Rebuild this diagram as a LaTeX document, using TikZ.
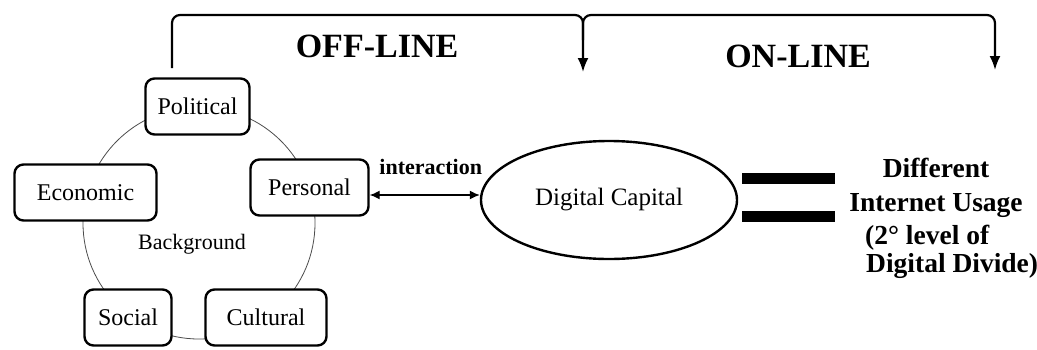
\documentclass[tikz,border=0pt]{standalone}
\usepackage{fontspec}
\setmainfont{Liberation Serif}
\usetikzlibrary{shapes.geometric,arrows.meta}
\begin{document}
\begin{tikzpicture}[x=1pt,y=-1pt,
  factor/.style={draw,line width=2.4pt,rounded corners=9pt,fill=white,
    minimum height=56pt,inner sep=0pt,font=\fontsize{24}{28}\selectfont},
  ring/.style={line width=0.8pt,draw=black!70},
  bracket/.style={line width=2.2pt,rounded corners=8pt},
  tip/.style={-{Latex[length=14pt,width=11pt]}},
  heading/.style={font=\bfseries\fontsize{34}{40}\selectfont},
  result/.style={font=\bfseries\fontsize{27.5}{33}\selectfont},
  bar/.style={fill=black,minimum width=93pt,minimum height=11pt,inner sep=0pt},
]
\useasboundingbox (0,0) rectangle (1037,349);

% background ring linking the factors
\draw[ring] (199,223) circle[radius=116pt];

% factor boxes
\node[factor,minimum width=104pt] (pol) at (197.5,106.5) {Political};
\node[factor,minimum width=142pt] (eco) at (85.5,192.5) {Economic};
\node[factor,minimum width=118pt] (per) at (309.5,187.5) {Personal};
\node[factor,minimum width=87pt] (soc) at (128,317.5) {Social};
\node[factor,minimum width=121pt] (cul) at (266,317.5) {Cultural};
\node[font=\fontsize{22}{26}\selectfont] (bg) at (192,244) {Background};

% digital capital
\node[draw,ellipse,line width=2.4pt,minimum width=256pt,minimum height=118pt,
  inner sep=0pt,font=\fontsize{25}{30}\selectfont] (dc) at (609,200) {Digital Capital};

% interaction arrow
\draw[line width=1.4pt,{Latex[length=10pt,width=9pt]}-{Latex[length=10pt,width=9pt]}]
  (per.east |- 0,195) -- node[above=20pt,xshift=6pt,inner sep=0pt,anchor=south,
  font=\bfseries\fontsize{22}{26}\selectfont] (lab) {interaction} (dc.west |- 0,195);

% equals sign
\node[bar] (eq1) at (788.5,178.5) {};
\node[bar] (eq2) at (788.5,216.5) {};

% outcome
\node[result,anchor=base] (r1) at (936,177) {Different};
\node[result,anchor=base] (r2) at (936,211) {Internet Usage};
\node[result,anchor=base west,inner sep=0pt] (r3) at (865,244) {(2° level of};
\node[result,anchor=base west,inner sep=0pt] (r4) at (866,272) {Digital Divide)};

% headings
\node[heading,anchor=base] (off) at (377,57) {OFF-LINE};
\node[heading,anchor=base] (on) at (798,67) {ON-LINE};

% top bracket
\coordinate (lstart) at (172,68);
\coordinate (mid) at (583,72);
\coordinate (rend) at (995,70);
\draw[bracket,tip] (lstart) |- (mid |- 0,15) -- (mid);
\draw[bracket,tip] (mid |- 0,40) |- (rend |- 0,15) -- (rend);
\end{tikzpicture}
\end{document}
